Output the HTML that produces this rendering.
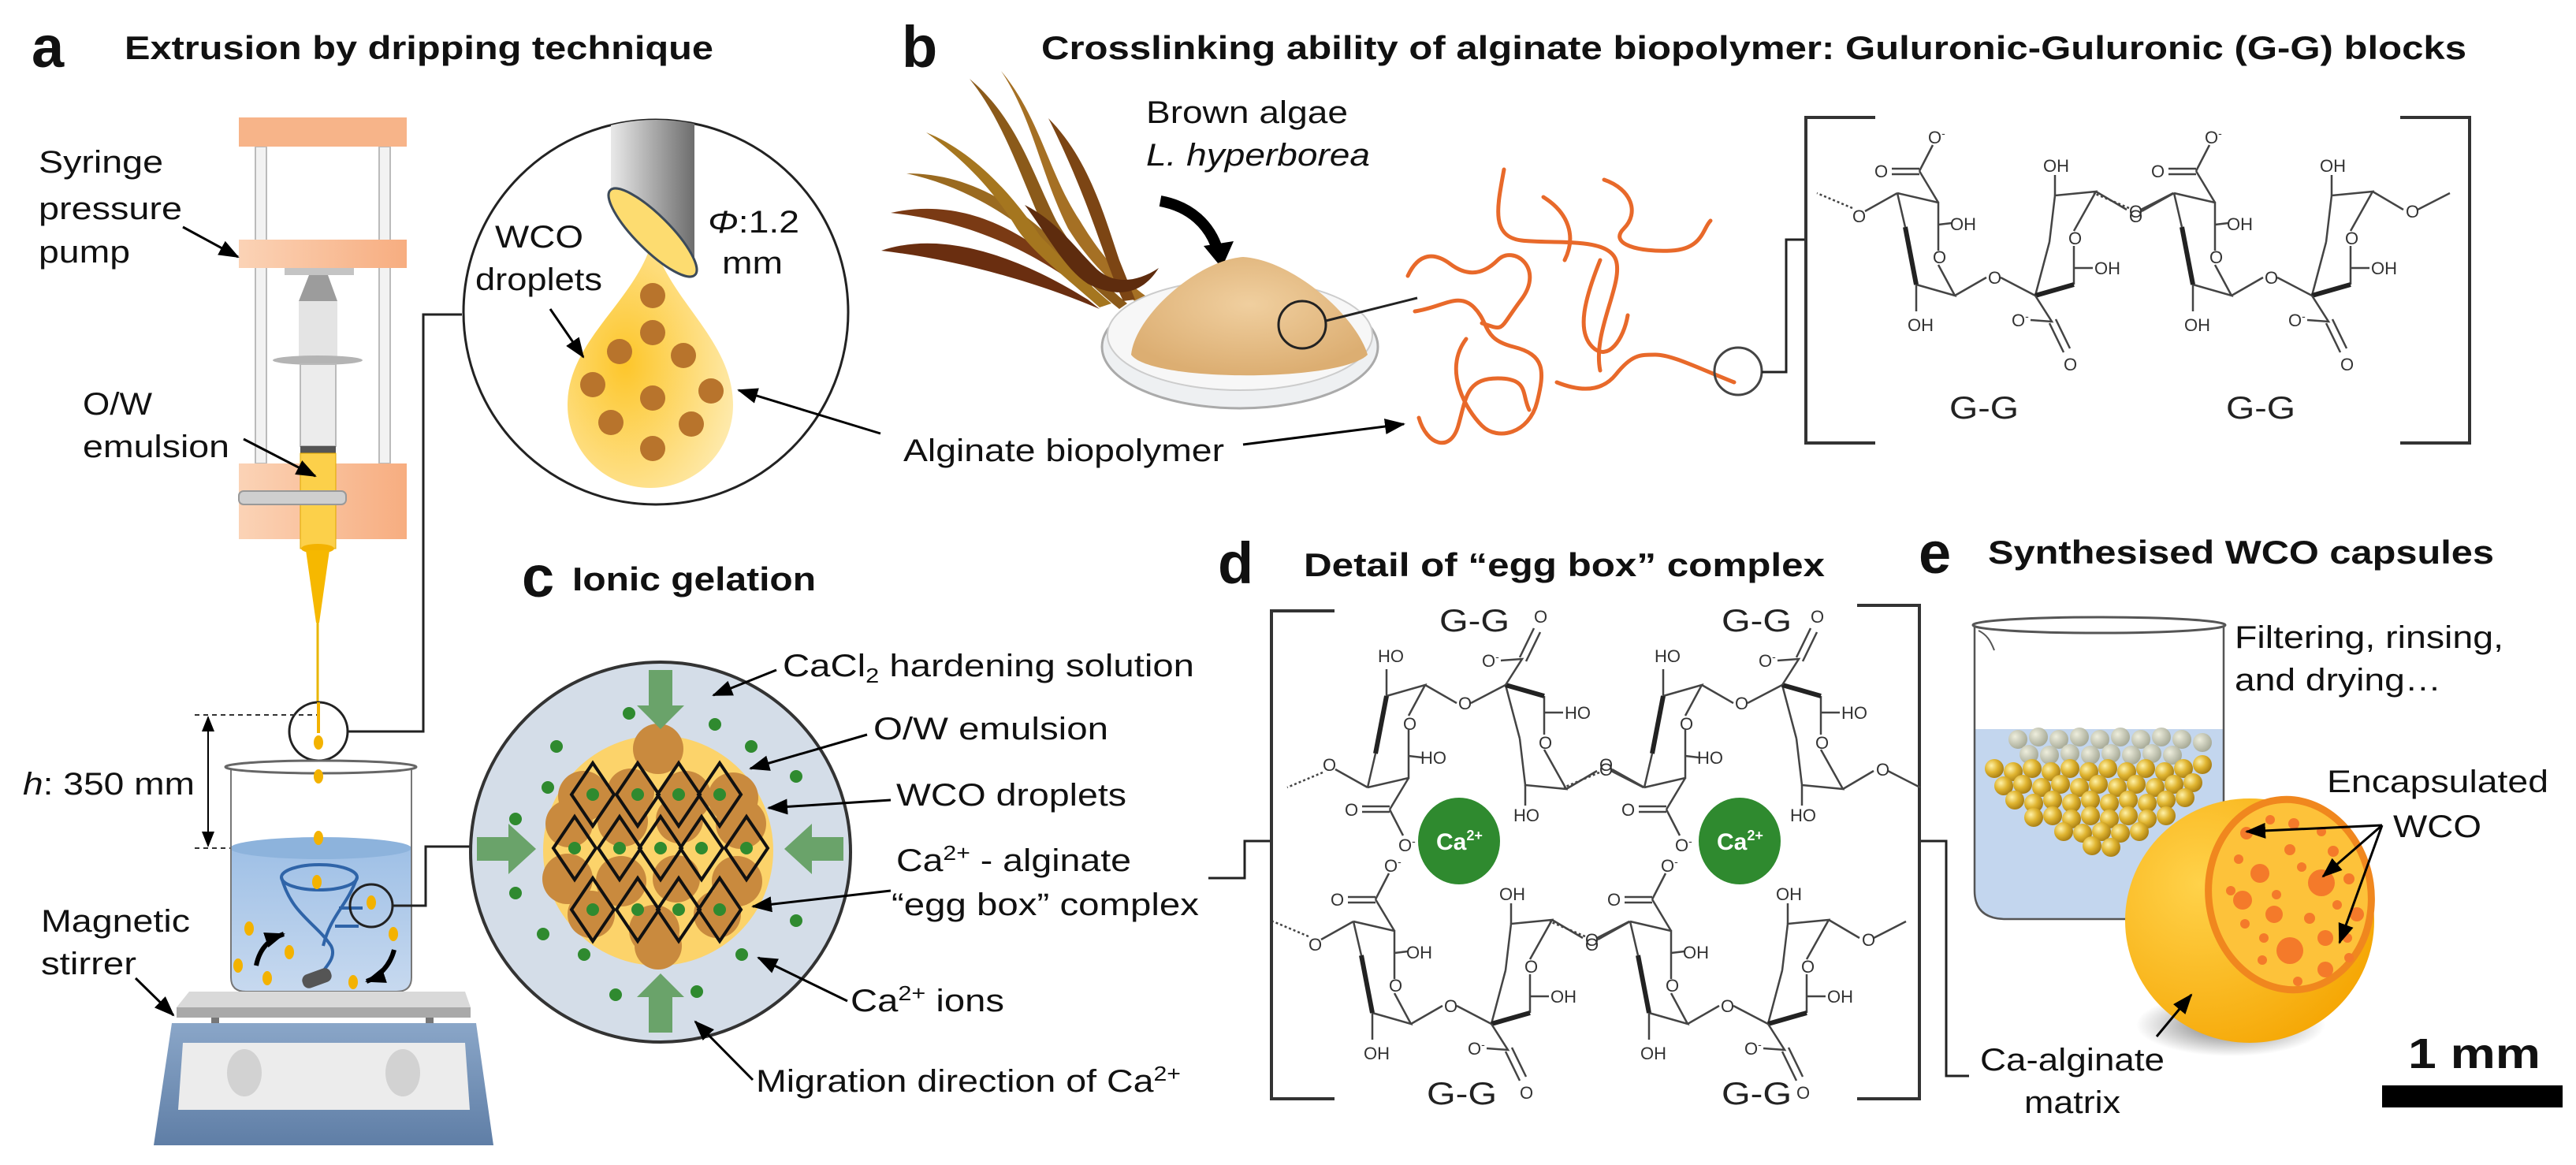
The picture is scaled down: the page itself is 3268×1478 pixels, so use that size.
<!DOCTYPE html>
<html><head><meta charset="utf-8">
<style>
html,body{margin:0;padding:0;background:#fff;}
svg{display:block;}
text{font-family:"Liberation Sans",Arial,sans-serif;fill:#111;}
.t{font-size:42px;font-weight:bold;}
.L{font-size:74px;font-weight:bold;}
.lb{font-size:40px;}
.ch{font-size:22px;fill:#333;}
.gg{font-size:40px;fill:#222;}
</style></head>
<body>
<svg width="3268" height="1478" viewBox="0 0 3268 1478" xmlns="http://www.w3.org/2000/svg">
<defs>
<marker id="ah" markerWidth="26" markerHeight="20" refX="24" refY="10" orient="auto" markerUnits="userSpaceOnUse">
<path d="M0,0 L26,10 L0,20 Z" fill="#000"/></marker>
<linearGradient id="pump" x1="0" x2="1"><stop offset="0" stop-color="#fbd3b6"/><stop offset="1" stop-color="#f7ad80"/></linearGradient>
<linearGradient id="needle" x1="0" x2="1"><stop offset="0" stop-color="#e9e9e9"/><stop offset="1" stop-color="#6d6d6d"/></linearGradient>
<radialGradient id="drop" cx="0.35" cy="0.5" r="0.8"><stop offset="0" stop-color="#fdc62a"/><stop offset="1" stop-color="#fef0c2"/></radialGradient>
<linearGradient id="water" x1="0" x2="0" y1="0" y2="1"><stop offset="0" stop-color="#9fc0e6"/><stop offset="1" stop-color="#c7d9ef"/></linearGradient>
<linearGradient id="base" x1="0" x2="0" y1="0" y2="1"><stop offset="0" stop-color="#8aa6c8"/><stop offset="1" stop-color="#5f7ea6"/></linearGradient>
<radialGradient id="gold" cx="0.35" cy="0.35" r="0.7"><stop offset="0" stop-color="#fff2a8"/><stop offset="0.5" stop-color="#e0b531"/><stop offset="1" stop-color="#a57b12"/></radialGradient>
<radialGradient id="grayb" cx="0.35" cy="0.35" r="0.7"><stop offset="0" stop-color="#eeeedd"/><stop offset="1" stop-color="#a5a895"/></radialGradient>
<radialGradient id="caps" cx="0.3" cy="0.35" r="0.8"><stop offset="0" stop-color="#ffd24a"/><stop offset="1" stop-color="#f5a400"/></radialGradient>
<radialGradient id="shadow" cx="0.5" cy="0.5" r="0.5"><stop offset="0" stop-color="#333" stop-opacity="0.7"/><stop offset="1" stop-color="#333" stop-opacity="0"/></radialGradient>
<radialGradient id="powder" cx="0.5" cy="0.4" r="0.6"><stop offset="0" stop-color="#f0cf9f"/><stop offset="1" stop-color="#dcae72"/></radialGradient>
<clipPath id="cA"><circle cx="832" cy="396" r="244"/></clipPath>

<g id="unit" fill="none" stroke="#444" stroke-width="2.5">
<path d="M2407,245 L2459,257 L2459,318 M2459,336 L2480,375 L2431,361 M2417,288 L2407,245"/>
<path d="M2417,288 L2431,361" stroke-width="6" stroke="#222"/>
<path d="M2459,257 L2435,217 M2435,214 L2400,214 M2435,221 L2400,221 M2435,217 L2452,184"/>
<path d="M2459,285 L2476,283 M2431,361 L2431,395 M2407,245 L2366,268"/>
<path d="M2350,264 L2305,245" stroke-dasharray="3,3"/>
<path d="M2480,375 L2520,352 M2538,352 L2582,375"/>
<path d="M2600,307 L2607,248 L2659,243 L2631,293 M2631,312 L2631,361 M2600,307 L2582,375"/>
<path d="M2582,375 L2631,361" stroke-width="6" stroke="#222"/>
<path d="M2607,248 L2607,222 M2631,340 L2655,340 M2659,243 L2698,266 M2716,266 L2757,245"/>
<path d="M2582,375 L2603,408 L2576,406 M2600,410 L2618,447 M2608,405 L2626,442"/>
</g>
<g id="ulab">
<text class="ch" x="2378" y="225">O</text><text class="ch" x="2446" y="182">O<tspan dy="-8" font-size="14">-</tspan></text>
<text class="ch" x="2474" y="292">OH</text><text class="ch" x="2452" y="334">O</text>
<text class="ch" x="2420" y="420">OH</text><text class="ch" x="2350" y="282">O</text>
<text class="ch" x="2522" y="360">O</text><text class="ch" x="2592" y="218">OH</text>
<text class="ch" x="2624" y="310">O</text><text class="ch" x="2657" y="348">OH</text>
<text class="ch" x="2552" y="414">O<tspan dy="-8" font-size="14">-</tspan></text><text class="ch" x="2618" y="470">O</text>
<text class="ch" x="2701" y="276">O</text>
</g>
</defs>

<!-- ===== Titles ===== -->
<text class="L" x="40" y="85">a</text>
<text class="t" x="158" y="75" textLength="747" lengthAdjust="spacingAndGlyphs">Extrusion by dripping technique</text>
<text class="L" x="1144" y="85">b</text>
<text class="t" x="1321" y="75" textLength="1808" lengthAdjust="spacingAndGlyphs">Crosslinking ability of alginate biopolymer: Guluronic-Guluronic (G-G) blocks</text>
<text class="L" x="662" y="757">c</text>
<text class="t" x="726" y="749" textLength="309" lengthAdjust="spacingAndGlyphs">Ionic gelation</text>
<text class="L" x="1545" y="740">d</text>
<text class="t" x="1654" y="731" textLength="661" lengthAdjust="spacingAndGlyphs">Detail of “egg box” complex</text>
<text class="L" x="2434" y="727">e</text>
<text class="t" x="2522" y="715" textLength="642" lengthAdjust="spacingAndGlyphs">Synthesised WCO capsules</text>

<!-- ===== Panel a: syringe pump ===== -->
<rect x="324" y="186" width="14" height="402" fill="#f2f2f2" stroke="#bbb" stroke-width="2"/>
<rect x="481" y="186" width="14" height="402" fill="#f2f2f2" stroke="#bbb" stroke-width="2"/>
<rect x="303" y="149" width="213" height="37" fill="#f7b489"/>
<rect x="303" y="304" width="213" height="36" fill="url(#pump)"/>
<rect x="361" y="340" width="88" height="9" fill="#c4c4c4"/>
<path d="M392,349 L416,349 L428,382 L379,382 Z" fill="#9c9c9c"/>
<rect x="379" y="382" width="49" height="71" fill="#e4e4e4"/>
<ellipse cx="403" cy="457" rx="57" ry="6" fill="#b4b4b4"/>
<rect x="381" y="462" width="45" height="104" fill="#ececec" stroke="#bbb" stroke-width="2"/>
<rect x="381" y="566" width="45" height="9" fill="#555"/>
<rect x="303" y="588" width="213" height="96" fill="url(#pump)"/>
<rect x="381" y="575" width="45" height="121" fill="#fcd04a" stroke="#e0a800" stroke-width="1"/>
<rect x="303" y="623" width="136" height="17" rx="6" fill="#cfcfcf" stroke="#999" stroke-width="2"/>
<ellipse cx="403" cy="696" rx="21" ry="6" fill="#f3b200"/>
<path d="M388,698 L418,698 L405,790 L401,790 Z" fill="#f6b800"/>
<line x1="403" y1="790" x2="403" y2="930" stroke="#e8b500" stroke-width="3"/>
<text class="lb" x="49" y="219" textLength="158" lengthAdjust="spacingAndGlyphs">Syringe</text>
<text class="lb" x="49" y="278" textLength="182" lengthAdjust="spacingAndGlyphs">pressure</text>
<text class="lb" x="49" y="333" textLength="116" lengthAdjust="spacingAndGlyphs">pump</text>
<line x1="232" y1="288" x2="302" y2="326" stroke="#000" stroke-width="3" marker-end="url(#ah)"/>
<text class="lb" x="105" y="526" textLength="88" lengthAdjust="spacingAndGlyphs">O/W</text>
<text class="lb" x="105" y="580" textLength="186" lengthAdjust="spacingAndGlyphs">emulsion</text>
<line x1="309" y1="557" x2="400" y2="604" stroke="#000" stroke-width="3" marker-end="url(#ah)"/>

<!-- big zoom circle a -->
<circle cx="832" cy="396" r="244" fill="#fff" stroke="#222" stroke-width="3"/>
<g clip-path="url(#cA)">
<path d="M775,140 L881,140 L881,349 L775,241 Z" fill="url(#needle)"/>
</g>
<path d="M828,302 C810,380 720,430 720,514 A105,105 0 0 0 930,514 C930,430 846,380 828,302 Z" fill="url(#drop)"/>
<ellipse cx="828" cy="295" rx="76" ry="22" transform="rotate(45 828 295)" fill="#fddc70" stroke="#3c4a5a" stroke-width="3"/>
<g fill="#b8742c">
<circle cx="828" cy="375" r="16"/><circle cx="828" cy="422" r="16"/><circle cx="786" cy="446" r="16"/><circle cx="867" cy="451" r="16"/><circle cx="752" cy="488" r="16"/><circle cx="828" cy="505" r="16"/><circle cx="902" cy="496" r="16"/><circle cx="775" cy="536" r="16"/><circle cx="877" cy="538" r="16"/><circle cx="828" cy="569" r="16"/>
</g>
<text class="lb" x="898" y="295" textLength="116" lengthAdjust="spacingAndGlyphs"><tspan font-style="italic">Φ</tspan>:1.2</text>
<text class="lb" x="916" y="347" textLength="77" lengthAdjust="spacingAndGlyphs">mm</text>
<text class="lb" x="628" y="314" textLength="112" lengthAdjust="spacingAndGlyphs">WCO</text>
<text class="lb" x="603" y="368" textLength="161" lengthAdjust="spacingAndGlyphs">droplets</text>
<line x1="698" y1="392" x2="740" y2="453" stroke="#000" stroke-width="3" marker-end="url(#ah)"/>
<line x1="1117" y1="550" x2="937" y2="495" stroke="#000" stroke-width="3" marker-end="url(#ah)"/>
<polyline points="586,399 537,399 537,928 441,928" fill="none" stroke="#222" stroke-width="3"/>

<!-- small circle & height -->
<circle cx="404" cy="928" r="37" fill="#fff" stroke="#222" stroke-width="3"/>
<line x1="404" y1="891" x2="404" y2="930" stroke="#f3b200" stroke-width="4"/>
<ellipse cx="404" cy="942" rx="6" ry="9" fill="#f3b200"/>
<line x1="247" y1="907" x2="402" y2="907" stroke="#333" stroke-width="2" stroke-dasharray="6,5"/>
<line x1="247" y1="1076" x2="300" y2="1076" stroke="#333" stroke-width="2" stroke-dasharray="6,5"/>
<line x1="264" y1="910" x2="264" y2="1073" stroke="#000" stroke-width="2"/>
<path d="M256,928 L264,908 L272,928 Z M256,1055 L264,1075 L272,1055 Z" fill="#000"/>
<text class="lb" x="29" y="1008" textLength="218" lengthAdjust="spacingAndGlyphs"><tspan font-style="italic">h</tspan>: 350 mm</text>

<!-- beaker a -->
<path d="M293,1076 L293,1240 Q293,1258 312,1258 L503,1258 Q522,1258 522,1240 L522,1076 Z" fill="url(#water)"/>
<ellipse cx="407" cy="1076" rx="115" ry="14" fill="#8db3dc"/>
<path d="M293,975 L293,1240 Q293,1258 312,1258 L503,1258 Q522,1258 522,1240 L522,975" fill="none" stroke="#777" stroke-width="2"/>
<ellipse cx="407" cy="973" rx="121" ry="8" fill="none" stroke="#666" stroke-width="3"/>
<ellipse cx="404" cy="985" rx="6" ry="9" fill="#f3b200"/>
<ellipse cx="404" cy="1063" rx="6" ry="9" fill="#f3b200"/>
<g fill="none" stroke="#2f64a8" stroke-width="4">
<ellipse cx="405" cy="1113" rx="48" ry="16"/>
<path d="M357,1113 C370,1160 400,1170 420,1200 C430,1220 400,1235 405,1245"/>
<path d="M453,1113 C440,1150 420,1160 410,1200"/>
<path d="M430,1152 L460,1152 M425,1175 L455,1175"/>
</g>
<g fill="#f3b200"><ellipse cx="402" cy="1119" rx="6" ry="9"/><ellipse cx="471" cy="1145" rx="6" ry="9"/><ellipse cx="316" cy="1178" rx="6" ry="9"/><ellipse cx="367" cy="1208" rx="6" ry="9"/><ellipse cx="302" cy="1225" rx="6" ry="9"/><ellipse cx="339" cy="1241" rx="6" ry="9"/><ellipse cx="448" cy="1246" rx="6" ry="9"/><ellipse cx="499" cy="1185" rx="6" ry="9"/></g>
<rect x="383" y="1232" width="38" height="18" rx="8" fill="#555" transform="rotate(-20 402 1241)"/>
<path d="M325,1225 C330,1200 345,1190 360,1185" fill="none" stroke="#000" stroke-width="6" marker-end="url(#ah)"/>
<path d="M500,1205 C495,1225 480,1240 465,1245" fill="none" stroke="#000" stroke-width="6" marker-end="url(#ah)"/>
<circle cx="471" cy="1149" r="27" fill="none" stroke="#222" stroke-width="3"/>
<polyline points="498,1149 540,1149 540,1074 597,1074" fill="none" stroke="#222" stroke-width="3"/>
<!-- stirrer -->
<path d="M240,1258 L590,1258 L597,1278 L224,1278 Z" fill="#d9d9d9"/>
<rect x="224" y="1278" width="373" height="13" fill="#a9a9a9"/>
<rect x="268" y="1291" width="10" height="8" fill="#777"/><rect x="540" y="1291" width="10" height="8" fill="#777"/>
<path d="M218,1298 L604,1298 L626,1453 L195,1453 Z" fill="url(#base)"/>
<path d="M232,1323 L590,1323 L596,1408 L226,1408 Z" fill="#ececec"/>
<ellipse cx="310" cy="1361" rx="22" ry="30" fill="#d2d2d2"/><ellipse cx="511" cy="1361" rx="22" ry="30" fill="#d2d2d2"/>
<text class="lb" x="52" y="1182" textLength="189" lengthAdjust="spacingAndGlyphs">Magnetic</text>
<text class="lb" x="52" y="1236" textLength="121" lengthAdjust="spacingAndGlyphs">stirrer</text>
<line x1="172" y1="1241" x2="220" y2="1288" stroke="#000" stroke-width="3" marker-end="url(#ah)"/>

<!-- ===== Panel c ===== -->
<circle cx="838" cy="1081" r="241" fill="#d4dde8" stroke="#333" stroke-width="4"/>
<circle cx="835" cy="1079" r="146" fill="#fcd36a"/>
<g fill="#c98a3e">
<circle cx="835" cy="950" r="32"/>
<circle cx="740" cy="1010" r="32"/><circle cx="800" cy="1005" r="30"/><circle cx="870" cy="1010" r="32"/><circle cx="930" cy="1012" r="32"/>
<circle cx="722" cy="1045" r="30"/><circle cx="790" cy="1042" r="32"/><circle cx="862" cy="1040" r="30"/><circle cx="940" cy="1045" r="32"/>
<circle cx="720" cy="1115" r="32"/><circle cx="788" cy="1118" r="32"/><circle cx="858" cy="1115" r="30"/><circle cx="935" cy="1118" r="32"/>
<circle cx="750" cy="1160" r="30"/><circle cx="830" cy="1180" r="32"/><circle cx="910" cy="1160" r="30"/>
<circle cx="835" cy="1200" r="30"/>
</g>
<g fill="none" stroke="#111" stroke-width="4">
<path d="M752,968 l27,40 l-27,40 l-27,-40 Z M809,968 l27,40 l-27,40 l-27,-40 Z M861,968 l27,40 l-27,40 l-27,-40 Z M913,968 l27,40 l-27,40 l-27,-40 Z"/>
<path d="M729,1036 l27,40 l-27,40 l-27,-40 Z M786,1036 l27,40 l-27,40 l-27,-40 Z M838,1036 l27,40 l-27,40 l-27,-40 Z M890,1036 l27,40 l-27,40 l-27,-40 Z M947,1036 l27,40 l-27,40 l-27,-40 Z"/>
<path d="M752,1114 l27,40 l-27,40 l-27,-40 Z M809,1114 l27,40 l-27,40 l-27,-40 Z M861,1114 l27,40 l-27,40 l-27,-40 Z M913,1114 l27,40 l-27,40 l-27,-40 Z"/>
</g>
<g fill="#2f8a2f">
<circle cx="752" cy="1008" r="8"/><circle cx="809" cy="1008" r="8"/><circle cx="861" cy="1008" r="8"/><circle cx="913" cy="1008" r="8"/>
<circle cx="729" cy="1076" r="8"/><circle cx="786" cy="1076" r="8"/><circle cx="838" cy="1076" r="8"/><circle cx="890" cy="1076" r="8"/><circle cx="947" cy="1076" r="8"/>
<circle cx="752" cy="1154" r="8"/><circle cx="809" cy="1154" r="8"/><circle cx="861" cy="1154" r="8"/><circle cx="913" cy="1154" r="8"/>
<circle cx="798" cy="905" r="8"/><circle cx="907" cy="919" r="8"/><circle cx="706" cy="947" r="8"/><circle cx="953" cy="947" r="8"/><circle cx="1010" cy="985" r="8"/><circle cx="695" cy="999" r="8"/><circle cx="654" cy="1039" r="8"/><circle cx="654" cy="1133" r="8"/><circle cx="689" cy="1185" r="8"/><circle cx="741" cy="1211" r="8"/><circle cx="941" cy="1211" r="8"/><circle cx="1010" cy="1168" r="8"/><circle cx="781" cy="1262" r="8"/><circle cx="884" cy="1258" r="8"/>
</g>
<g fill="#6aa36a">
<path d="M823,850 L853,850 L853,895 L868,895 L838,925 L808,895 L823,895 Z"/>
<path d="M823,1310 L853,1310 L853,1265 L868,1265 L838,1235 L808,1265 L823,1265 Z"/>
<path d="M605,1062 L645,1062 L645,1045 L680,1077 L645,1109 L645,1092 L605,1092 Z"/>
<path d="M1070,1062 L1030,1062 L1030,1045 L995,1077 L1030,1109 L1030,1092 L1070,1092 Z"/>
</g>
<g stroke="#000" stroke-width="3" marker-end="url(#ah)">
<line x1="985" y1="850" x2="905" y2="882"/>
<line x1="1100" y1="932" x2="952" y2="975"/>
<line x1="1130" y1="1015" x2="975" y2="1025"/>
<line x1="1130" y1="1130" x2="955" y2="1150"/>
<line x1="1075" y1="1270" x2="962" y2="1215"/>
<line x1="955" y1="1370" x2="882" y2="1296"/>
</g>
<text class="lb" x="993" y="858" textLength="522" lengthAdjust="spacingAndGlyphs">CaCl<tspan font-size="26" dy="8">2</tspan><tspan dy="-8"> hardening solution</tspan></text>
<text class="lb" x="1108" y="938" textLength="298" lengthAdjust="spacingAndGlyphs">O/W emulsion</text>
<text class="lb" x="1137" y="1022" textLength="292" lengthAdjust="spacingAndGlyphs">WCO droplets</text>
<text class="lb" x="1137" y="1105" textLength="298" lengthAdjust="spacingAndGlyphs">Ca<tspan font-size="26" dy="-14">2+</tspan><tspan dy="14"> - alginate</tspan></text>
<text class="lb" x="1131" y="1161" textLength="390" lengthAdjust="spacingAndGlyphs">“egg box” complex</text>
<text class="lb" x="1079" y="1283" textLength="195" lengthAdjust="spacingAndGlyphs">Ca<tspan font-size="26" dy="-14">2+</tspan><tspan dy="14"> ions</tspan></text>
<text class="lb" x="959" y="1385" textLength="539" lengthAdjust="spacingAndGlyphs">Migration direction of Ca<tspan font-size="26" dy="-14">2+</tspan></text>
<polyline points="1533,1114 1579,1114 1579,1067 1613,1067" fill="none" stroke="#222" stroke-width="3"/>

<!-- ===== Panel b ===== -->
<g>
<path d="M1118,318 C1200,290 1300,330 1380,380 L1395,392 C1320,360 1220,330 1118,318 Z" fill="#6a2e10"/>
<path d="M1130,270 C1220,250 1300,290 1370,360 L1385,375 C1300,310 1220,280 1130,270 Z" fill="#7a3a14"/>
<path d="M1150,220 C1230,220 1300,260 1370,340 L1390,370 C1310,290 1240,240 1150,220 Z" fill="#9a6a20"/>
<path d="M1175,168 C1230,190 1280,240 1320,300 C1350,330 1380,360 1410,385 L1395,390 C1350,350 1310,320 1290,290 C1260,240 1220,200 1175,168 Z" fill="#a5761f"/>
<path d="M1230,100 C1290,150 1310,220 1340,280 C1370,330 1400,360 1430,385 L1420,392 C1380,360 1340,320 1320,280 C1290,210 1270,150 1230,100 Z" fill="#8b5a1a"/>
<path d="M1270,90 C1320,150 1330,220 1370,280 C1400,330 1430,360 1460,380 L1450,390 C1410,360 1380,330 1355,290 C1320,220 1310,150 1270,90 Z" fill="#a57024"/>
<path d="M1330,150 C1380,200 1400,270 1420,330 L1440,380 L1425,382 C1400,330 1385,260 1330,150 Z" fill="#7c4514"/>
<path d="M1300,260 C1330,300 1350,340 1380,360 C1420,380 1450,372 1470,340 C1440,360 1410,360 1390,340 C1360,310 1340,280 1300,260 Z" fill="#5e2c0e"/>
</g>
<text class="lb" x="1454" y="156" textLength="256" lengthAdjust="spacingAndGlyphs">Brown algae</text>
<text class="lb" x="1454" y="210" font-style="italic" textLength="284" lengthAdjust="spacingAndGlyphs">L. hyperborea</text>
<path d="M1472,255 C1510,262 1535,285 1545,318" fill="none" stroke="#000" stroke-width="14"/>
<path d="M1527,312 L1550,340 L1565,306 Z" fill="#000"/>
<ellipse cx="1573" cy="440" rx="175" ry="78" fill="#eef0f2" stroke="#aaa" stroke-width="3"/>
<ellipse cx="1573" cy="425" rx="168" ry="70" fill="#f7f7f7" stroke="#ccc" stroke-width="2"/>
<path d="M1435,450 C1440,400 1520,330 1577,326 C1640,330 1720,400 1735,450 C1700,485 1460,485 1435,450 Z" fill="url(#powder)"/>
<circle cx="1652" cy="412" r="30" fill="none" stroke="#222" stroke-width="3"/>
<line x1="1682" y1="407" x2="1798" y2="378" stroke="#222" stroke-width="3"/>
<g fill="none" stroke="#e8692a" stroke-width="5" stroke-linecap="round">
<path d="M1908,215 C1900,260 1890,300 1930,305 S2040,300 2050,330 S2020,420 2030,470"/>
<path d="M2035,228 C2070,240 2080,270 2060,290 S2080,320 2120,318 S2160,290 2170,280"/>
<path d="M1786,350 C1800,320 1820,320 1840,335 S1880,350 1900,330 S1960,340 1930,380 S1910,420 1880,410"/>
<path d="M1795,395 C1830,390 1850,370 1870,390 S1880,430 1920,440 S1960,470 1950,510 S1900,560 1880,540 S1830,470 1860,430"/>
<path d="M1800,530 C1810,565 1840,575 1850,540 S1860,480 1900,480 S1930,500 1940,520"/>
<path d="M1975,485 C2000,495 2030,500 2050,475 S2080,450 2100,450 S2150,465 2200,485"/>
<path d="M2030,330 C2010,380 2000,420 2020,440 S2060,430 2065,400"/>
<path d="M1958,250 C1990,270 2000,300 1985,330"/>
</g>
<circle cx="2205" cy="471" r="30" fill="none" stroke="#444" stroke-width="3"/>
<polyline points="2235,472 2266,472 2266,304 2291,304" fill="none" stroke="#222" stroke-width="3"/>
<text class="lb" x="1146" y="585" textLength="407" lengthAdjust="spacingAndGlyphs">Alginate biopolymer</text>
<line x1="1577" y1="564" x2="1781" y2="538" stroke="#000" stroke-width="3" marker-end="url(#ah)"/>
<!-- b chemistry -->
<polyline points="2379,149 2291,149 2291,562 2379,562" fill="none" stroke="#333" stroke-width="4"/>
<polyline points="3045,149 3133,149 3133,562 3045,562" fill="none" stroke="#333" stroke-width="4"/>
<use href="#unit"/><use href="#ulab"/>
<use href="#unit" transform="translate(351,0)"/><use href="#ulab" transform="translate(351,0)"/>
<text class="gg" x="2473" y="531" textLength="88" lengthAdjust="spacingAndGlyphs">G-G</text>
<text class="gg" x="2824" y="531" textLength="88" lengthAdjust="spacingAndGlyphs">G-G</text>

<!-- ===== Panel d ===== -->
<polyline points="1693,775 1613,775 1613,1394 1693,1394" fill="none" stroke="#333" stroke-width="4"/>
<polyline points="2356,768 2435,768 2435,1394 2356,1394" fill="none" stroke="#333" stroke-width="4"/>
<use href="#unit" transform="translate(-690,924)"/><use href="#ulab" transform="translate(-690,924)"/>
<use href="#unit" transform="translate(-339,924)"/><use href="#ulab" transform="translate(-339,924)"/>
<use href="#unit" transform="translate(-672,1244) scale(1,-1)"/>
<use href="#unit" transform="translate(-321,1244) scale(1,-1)"/>
<g id="toplab">
<text class="ch" x="1706" y="1035">O</text><text class="ch" x="1774" y="1080">O<tspan dy="-8" font-size="14">-</tspan></text>
<text class="ch" x="1802" y="969">HO</text><text class="ch" x="1780" y="926">O</text>
<text class="ch" x="1748" y="840">HO</text><text class="ch" x="1678" y="978">O</text>
<text class="ch" x="1850" y="900">O</text><text class="ch" x="1920" y="1042">HO</text>
<text class="ch" x="1952" y="950">O</text><text class="ch" x="1985" y="912">HO</text>
<text class="ch" x="1880" y="846">O<tspan dy="-8" font-size="14">-</tspan></text><text class="ch" x="1946" y="790">O</text>
<text class="ch" x="2029" y="984">O</text>
</g>
<use href="#toplab" transform="translate(351,0)"/>
<ellipse cx="1851" cy="1067" rx="52" ry="55" fill="#2f8a2f"/>
<ellipse cx="2207" cy="1067" rx="52" ry="55" fill="#2f8a2f"/>
<text x="1822" y="1078" font-size="30" font-weight="bold" style="fill:#fff">Ca<tspan font-size="18" dy="-12">2+</tspan></text>
<text x="2178" y="1078" font-size="30" font-weight="bold" style="fill:#fff">Ca<tspan font-size="18" dy="-12">2+</tspan></text>
<text class="gg" x="1826" y="801" textLength="89" lengthAdjust="spacingAndGlyphs">G-G</text>
<text class="gg" x="2184" y="801" textLength="89" lengthAdjust="spacingAndGlyphs">G-G</text>
<text class="gg" x="1810" y="1401" textLength="89" lengthAdjust="spacingAndGlyphs">G-G</text>
<text class="gg" x="2184" y="1401" textLength="89" lengthAdjust="spacingAndGlyphs">G-G</text>
<polyline points="2437,1067 2469,1067 2469,1365 2498,1365" fill="none" stroke="#222" stroke-width="3"/>

<!-- ===== Panel e ===== -->
<path d="M2505,925 L2505,1130 Q2505,1166 2545,1166 L2781,1166 Q2821,1166 2821,1130 L2821,925 Z" fill="#c3d6ee"/>
<path d="M2505,795 L2505,1130 Q2505,1166 2545,1166 L2781,1166 Q2821,1166 2821,1130 L2821,795" fill="none" stroke="#555" stroke-width="2.5"/>
<ellipse cx="2663" cy="793" rx="160" ry="10" fill="none" stroke="#555" stroke-width="3"/>
<path d="M2510,800 C2520,805 2525,812 2530,825" fill="none" stroke="#555" stroke-width="2"/>
<g fill="url(#grayb)">
<circle cx="2560" cy="938" r="12"/><circle cx="2586" cy="935" r="12"/><circle cx="2612" cy="938" r="12"/><circle cx="2638" cy="935" r="12"/><circle cx="2664" cy="938" r="12"/><circle cx="2690" cy="935" r="12"/><circle cx="2716" cy="938" r="12"/><circle cx="2742" cy="935" r="12"/><circle cx="2768" cy="938" r="12"/><circle cx="2794" cy="942" r="12"/>
<circle cx="2574" cy="957" r="12"/><circle cx="2600" cy="958" r="12"/><circle cx="2626" cy="956" r="12"/><circle cx="2652" cy="958" r="12"/><circle cx="2678" cy="956" r="12"/><circle cx="2704" cy="958" r="12"/><circle cx="2730" cy="956" r="12"/><circle cx="2756" cy="958" r="12"/>
</g>
<g fill="url(#gold)">
<circle cx="2530" cy="975" r="12"/><circle cx="2554" cy="979" r="12"/><circle cx="2578" cy="975" r="12"/><circle cx="2602" cy="979" r="12"/><circle cx="2626" cy="975" r="12"/><circle cx="2650" cy="979" r="12"/><circle cx="2674" cy="975" r="12"/><circle cx="2698" cy="979" r="12"/><circle cx="2722" cy="975" r="12"/><circle cx="2746" cy="979" r="12"/><circle cx="2770" cy="975" r="12"/><circle cx="2794" cy="970" r="12"/>
<circle cx="2542" cy="997" r="12"/><circle cx="2566" cy="995" r="12"/><circle cx="2590" cy="999" r="12"/><circle cx="2614" cy="995" r="12"/><circle cx="2638" cy="999" r="12"/><circle cx="2662" cy="995" r="12"/><circle cx="2686" cy="999" r="12"/><circle cx="2710" cy="995" r="12"/><circle cx="2734" cy="999" r="12"/><circle cx="2758" cy="995" r="12"/><circle cx="2782" cy="993" r="12"/>
<circle cx="2556" cy="1015" r="12"/><circle cx="2580" cy="1019" r="12"/><circle cx="2604" cy="1015" r="12"/><circle cx="2628" cy="1019" r="12"/><circle cx="2652" cy="1015" r="12"/><circle cx="2676" cy="1019" r="12"/><circle cx="2700" cy="1015" r="12"/><circle cx="2724" cy="1019" r="12"/><circle cx="2748" cy="1015" r="12"/><circle cx="2772" cy="1012" r="12"/>
<circle cx="2580" cy="1037" r="12"/><circle cx="2604" cy="1035" r="12"/><circle cx="2628" cy="1039" r="12"/><circle cx="2652" cy="1035" r="12"/><circle cx="2676" cy="1039" r="12"/><circle cx="2700" cy="1035" r="12"/><circle cx="2724" cy="1039" r="12"/><circle cx="2748" cy="1035" r="12"/>
<circle cx="2618" cy="1055" r="12"/><circle cx="2642" cy="1057" r="12"/><circle cx="2666" cy="1055" r="12"/><circle cx="2690" cy="1057" r="12"/><circle cx="2714" cy="1055" r="12"/>
<circle cx="2654" cy="1073" r="12"/><circle cx="2678" cy="1075" r="12"/>
</g>
<!-- capsule -->
<ellipse cx="2830" cy="1300" rx="120" ry="40" fill="url(#shadow)"/>
<ellipse cx="2854" cy="1168" rx="158" ry="155" fill="url(#caps)"/>
<ellipse cx="2905" cy="1135" rx="103" ry="121" transform="rotate(-8 2905 1135)" fill="#fdc23a" stroke="#f0871e" stroke-width="9"/>
<g fill="#f47a2a">
<circle cx="2850" cy="1057" r="8"/><circle cx="2880" cy="1040" r="6"/><circle cx="2910" cy="1045" r="7"/><circle cx="2945" cy="1055" r="6"/><circle cx="2960" cy="1080" r="7"/>
<circle cx="2840" cy="1090" r="6"/><circle cx="2867" cy="1108" r="12"/><circle cx="2905" cy="1078" r="7"/><circle cx="2945" cy="1120" r="17"/><circle cx="2980" cy="1115" r="7"/>
<circle cx="2830" cy="1130" r="6"/><circle cx="2845" cy="1142" r="12"/><circle cx="2888" cy="1135" r="6"/><circle cx="2885" cy="1160" r="11"/><circle cx="2930" cy="1165" r="7"/><circle cx="2965" cy="1148" r="6"/><circle cx="2990" cy="1160" r="9"/>
<circle cx="2848" cy="1172" r="6"/><circle cx="2872" cy="1190" r="6"/><circle cx="2905" cy="1206" r="17"/><circle cx="2950" cy="1190" r="10"/><circle cx="2978" cy="1190" r="6"/>
<circle cx="2870" cy="1218" r="6"/><circle cx="2950" cy="1230" r="10"/><circle cx="2915" cy="1245" r="6"/><circle cx="2980" cy="1215" r="6"/><circle cx="2920" cy="1100" r="6"/>
</g>
<g stroke="#000" stroke-width="3">
<line x1="3022" y1="1047" x2="2850" y2="1055" marker-end="url(#ah)"/>
<line x1="3022" y1="1047" x2="2947" y2="1112" marker-end="url(#ah)"/>
<line x1="3022" y1="1047" x2="2968" y2="1196" marker-end="url(#ah)"/>
<line x1="2736" y1="1315" x2="2780" y2="1262" marker-end="url(#ah)"/>
</g>
<text class="lb" x="2835" y="822" textLength="341" lengthAdjust="spacingAndGlyphs">Filtering, rinsing,</text>
<text class="lb" x="2835" y="876" textLength="262" lengthAdjust="spacingAndGlyphs">and drying…</text>
<text class="lb" x="2952" y="1005" textLength="281" lengthAdjust="spacingAndGlyphs">Encapsulated</text>
<text class="lb" x="3036" y="1062" textLength="112" lengthAdjust="spacingAndGlyphs">WCO</text>
<text class="lb" x="2512" y="1358" textLength="234" lengthAdjust="spacingAndGlyphs">Ca-alginate</text>
<text class="lb" x="2568" y="1412" textLength="122" lengthAdjust="spacingAndGlyphs">matrix</text>
<text x="3055" y="1355" font-size="54" font-weight="bold" textLength="168" lengthAdjust="spacingAndGlyphs">1 mm</text>
<rect x="3022" y="1377" width="229" height="28" fill="#000"/>
</svg>
</body></html>
